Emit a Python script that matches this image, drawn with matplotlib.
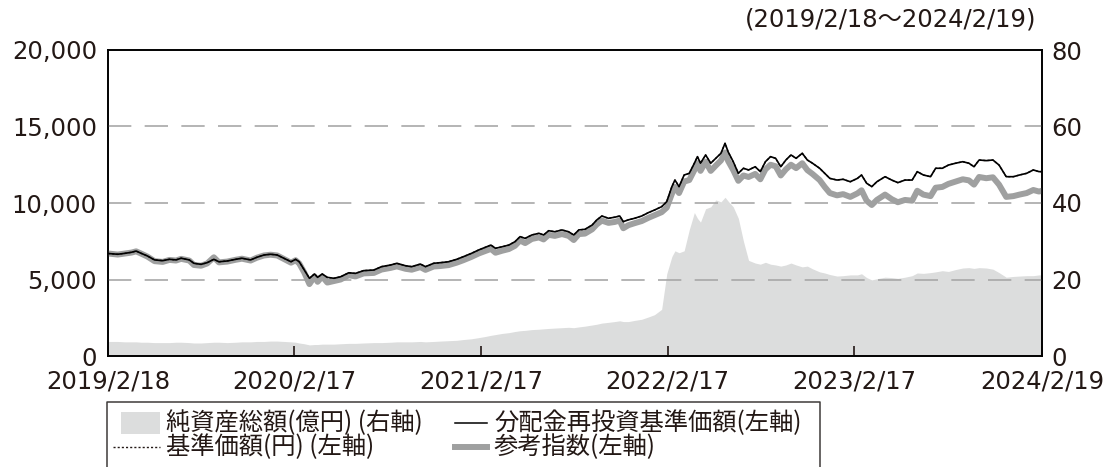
import pandas as pd
import matplotlib.pyplot as plt
from matplotlib.lines import Line2D
from matplotlib.patches import Rectangle

plt.rcParams["font.family"] = ["DejaVu Sans", "Noto Sans CJK JP"]

dates = [
    "2019-02-18", "2019-03-09", "2019-03-23", "2019-04-05", "2019-04-14", "2019-04-24", "2019-05-06",
    "2019-05-20", "2019-06-05", "2019-06-18", "2019-07-01", "2019-07-11", "2019-07-27", "2019-08-05",
    "2019-08-19", "2019-08-31", "2019-09-13", "2019-09-23", "2019-10-09", "2019-10-26", "2019-11-07",
    "2019-11-24", "2019-12-06", "2019-12-20",
    "2020-01-02", "2020-01-15", "2020-01-28", "2020-02-11", "2020-02-20", "2020-02-27", "2020-03-08",
    "2020-03-18", "2020-03-28", "2020-04-03", "2020-04-12", "2020-04-22", "2020-05-05", "2020-05-18",
    "2020-06-03", "2020-06-16", "2020-07-02", "2020-07-22", "2020-08-06", "2020-08-24", "2020-09-05",
    "2020-09-22", "2020-10-04", "2020-10-21", "2020-10-31", "2020-11-16", "2020-11-29", "2020-12-15",
    "2020-12-31",
    "2021-01-13", "2021-01-29", "2021-02-12", "2021-02-25", "2021-03-08", "2021-03-17", "2021-03-30",
    "2021-04-12", "2021-04-24", "2021-05-04", "2021-05-14", "2021-05-27", "2021-06-10", "2021-06-19",
    "2021-06-29", "2021-07-11", "2021-07-25", "2021-08-07", "2021-08-17", "2021-08-27", "2021-09-08",
    "2021-09-22", "2021-10-01", "2021-10-11", "2021-10-24", "2021-11-05", "2021-11-15", "2021-11-22",
    "2021-12-02", "2021-12-14", "2021-12-28",
    "2022-01-10", "2022-01-22", "2022-02-05", "2022-02-15", "2022-02-25", "2022-03-03", "2022-03-11",
    "2022-03-21", "2022-03-31", "2022-04-10", "2022-04-16", "2022-04-22", "2022-05-02", "2022-05-12",
    "2022-05-22", "2022-06-01", "2022-06-09", "2022-06-15", "2022-06-25", "2022-07-05", "2022-07-15",
    "2022-07-25", "2022-08-07", "2022-08-17", "2022-08-27", "2022-09-06", "2022-09-16", "2022-09-26",
    "2022-10-06", "2022-10-16", "2022-10-26", "2022-11-07", "2022-11-17", "2022-11-27", "2022-12-11",
    "2022-12-21", "2022-12-31",
    "2023-01-14", "2023-01-26", "2023-02-09", "2023-02-23", "2023-03-03", "2023-03-13", "2023-03-23",
    "2023-04-02", "2023-04-18", "2023-05-01", "2023-05-13", "2023-05-27", "2023-06-10", "2023-06-20",
    "2023-07-02", "2023-07-16", "2023-07-26", "2023-08-08", "2023-08-20", "2023-09-03", "2023-09-17",
    "2023-09-29", "2023-10-09", "2023-10-19", "2023-11-02", "2023-11-15", "2023-11-27", "2023-12-11",
    "2023-12-25",
    "2024-01-06", "2024-01-20", "2024-02-02", "2024-02-13", "2024-02-19",
]

# 分配金再投資基準価額 (円)
nav_reinvest = [
    6700, 6650, 6710, 6780, 6860, 6710, 6540,
    6280, 6230, 6320, 6280, 6390, 6280, 6060,
    5990, 6100, 6320, 6160, 6210, 6320, 6390,
    6280, 6450, 6600,
    6650, 6600, 6390, 6160, 6320, 6160, 5620,
    5080, 5360, 5140, 5360, 5140, 5080, 5180,
    5440, 5400, 5580, 5620, 5840, 5950, 6060,
    5900, 5840, 6010, 5840, 6060, 6100, 6160,
    6320,
    6490, 6710, 6930, 7100, 7250, 7040, 7140,
    7250, 7470, 7800, 7690, 7910, 8020, 7910,
    8190, 8120, 8240, 8120, 7910, 8240, 8280,
    8560, 8890, 9150, 9000, 9070, 9150, 8780,
    8900, 9000, 9150,
    9370, 9540, 9760, 10090, 11070, 11500, 11070,
    11830, 11940, 12600, 13030, 12600, 13140, 12600,
    12920, 13250, 13900, 13350, 12700, 11940, 12270,
    12160, 12370, 12050, 12700, 13030, 12920, 12370,
    12810, 13140, 12920, 13250, 12810, 12600, 12270,
    11940, 11610,
    11500, 11550, 11390, 11610, 11830, 11290, 11070,
    11390, 11720, 11500, 11330, 11500, 11500, 12050,
    11830, 11720, 12270, 12270, 12480, 12600, 12700,
    12600, 12370, 12810, 12770, 12810, 12480, 11720,
    11720,
    11830, 11940, 12160, 12050, 12050,
]

# 基準価額 (円): no distribution paid, same as reinvested
nav = list(nav_reinvest)

# 参考指数
ref_index = [
    6700, 6630, 6700, 6760, 6840, 6690, 6500,
    6200, 6150, 6280, 6240, 6350, 6240, 5950,
    5900, 6050, 6450, 6120, 6170, 6290, 6360,
    6240, 6420, 6570,
    6620, 6570, 6340, 6100, 6260, 6050, 5450,
    4700, 5200, 4850, 5200, 4800, 4900, 5000,
    5280, 5200, 5400, 5430, 5650, 5760, 5860,
    5700, 5640, 5810, 5630, 5850, 5880, 5940,
    6100,
    6260, 6480, 6700, 6860, 7000, 6750, 6880,
    6990, 7200, 7550, 7380, 7650, 7750, 7620,
    7920, 7850, 7970, 7850, 7580, 7970, 8000,
    8280, 8600, 8850, 8700, 8760, 8850, 8350,
    8550, 8680, 8820,
    9030, 9200, 9400, 9700, 10600, 11050, 10650,
    11400, 11500, 12150, 12600, 12100, 12700, 12100,
    12450, 12780, 13300, 12750, 12150, 11450, 11800,
    11700, 11900, 11550, 12200, 12500, 12400, 11800,
    12200, 12500, 12280, 12600, 12150, 11900, 11500,
    11050, 10650,
    10500, 10580, 10400, 10630, 10830, 10150, 9870,
    10200, 10550, 10250, 10050, 10200, 10150, 10800,
    10550, 10450, 11000, 11050, 11250, 11400, 11550,
    11480, 11200, 11700, 11620, 11680, 11200, 10400,
    10450,
    10550, 10650, 10850, 10750, 10800,
]

# 純資産総額 (億円)
net_assets = [
    3.8, 3.8, 3.7, 3.7, 3.7, 3.6, 3.6,
    3.5, 3.5, 3.5, 3.6, 3.6, 3.5, 3.4,
    3.4, 3.5, 3.6, 3.6, 3.5, 3.6, 3.7,
    3.7, 3.8, 3.8,
    3.9, 3.9, 3.8, 3.7, 3.6, 3.4, 3.2,
    2.9, 3.0, 3.0, 3.1, 3.1, 3.1, 3.2,
    3.3, 3.3, 3.4, 3.5, 3.5, 3.6, 3.7,
    3.7, 3.7, 3.8, 3.7, 3.8, 3.9, 4.0,
    4.1,
    4.3, 4.5, 4.8, 5.1, 5.4, 5.6, 5.9,
    6.1, 6.4, 6.6, 6.7, 6.9, 7.0, 7.1,
    7.2, 7.3, 7.4, 7.5, 7.4, 7.6, 7.8,
    8.1, 8.3, 8.6, 8.8, 9.0, 9.2, 9.0,
    9.0, 9.3, 9.6,
    10.2, 10.8, 12.2, 21.5, 26.0, 27.5, 27.0,
    27.5, 33.0, 37.5, 36.0, 35.0, 38.5, 39.0,
    40.8, 40.3, 41.5, 40.5, 39.0, 36.0, 30.0,
    25.0, 24.3, 24.0, 24.5, 24.0, 23.8, 23.5,
    23.8, 24.3, 23.8, 23.3, 23.5, 22.8, 22.0,
    21.7, 21.3,
    20.9, 21.0, 21.2, 21.2, 21.5, 20.5, 19.9,
    20.2, 20.6, 20.5, 20.3, 20.6, 21.0, 21.7,
    21.6, 21.8, 22.0, 22.3, 22.1, 22.6, 23.0,
    23.1, 22.9, 23.1, 23.0, 22.7, 21.8, 20.6,
    20.8,
    20.9, 21.0, 21.0, 21.2, 21.2,
]

tick_dates = ["2019-02-18", "2020-02-17", "2021-02-17", "2022-02-17", "2023-02-17", "2024-02-19"]
tick_labels = ["2019/2/18", "2020/2/17", "2021/2/17", "2022/2/17", "2023/2/17", "2024/2/19"]

legend_labels = ["純資産総額(億円) (右軸)", "基準価額(円) (左軸)",
                 "分配金再投資基準価額(左軸)", "参考指数(左軸)"]

x = pd.to_datetime(dates)
txt = "#231815"
fill_c = "#dcdddd"
ref_c = "#9fa0a0"
W, H = 1111, 467

fig = plt.figure(figsize=(W / 100, H / 100), dpi=100)
ax = fig.add_axes([108 / W, 1 - 356 / H, 934 / W, 306 / H])
ax2 = ax.twinx()

# net assets on the right axis, drawn behind
ax2.fill_between(x, net_assets, 0, color=fill_c, linewidth=0, zorder=1)
ax2.set_ylim(0, 80)
ax2.set_yticks([0, 20, 40, 60, 80])
ax2.tick_params(axis="y", length=0, labelsize=17.5, colors=txt, pad=7)

ax.set_zorder(ax2.get_zorder() + 1)
ax.patch.set_visible(False)

for yv in [5000, 10000, 15000]:
    ax.axhline(yv, color="#a8a8a8", lw=1.2, dashes=(14, 8), zorder=1)

ax.plot(x, ref_index, color=ref_c, lw=4.3, zorder=2, solid_joinstyle="round")
ax.plot(x, nav, color=txt, lw=1.0, ls=(0, (1.5, 1.5)), zorder=3)
ax.plot(x, nav_reinvest, color="black", lw=1.2, zorder=4)

ax.set_ylim(0, 20000)
ax.set_yticks([0, 5000, 10000, 15000, 20000])
ax.set_yticklabels(["0", "5,000", "10,000", "15,000", "20,000"])
ax.tick_params(axis="y", length=0, labelsize=17.5, colors=txt, pad=8)

ax.set_xlim(x[0], x[-1])
ax.set_xticks(pd.to_datetime(tick_dates))
ax.set_xticklabels(tick_labels)
ax.tick_params(axis="x", direction="in", length=7, width=1.2, labelsize=17.5, colors=txt, pad=10)

for a in (ax, ax2):
    for s in a.spines.values():
        s.set_color("black")
        s.set_linewidth(1.2)

fig.text(1036 / W, 1 - 20 / H, "(2019/2/18～2024/2/19)", ha="right", va="center",
         fontsize=17.5, color=txt)


# legend box, open at the bottom edge of the picture
def fx(px):
    return px / W


def fy(py):
    return 1 - py / H


fig.add_artist(Line2D([fx(107), fx(107), fx(820), fx(820)], [fy(475), fy(402), fy(402), fy(475)],
                      transform=fig.transFigure, color="#3e3a39", lw=1.1))
fig.add_artist(Rectangle((fx(121), fy(434)), fx(160) - fx(121), fy(412) - fy(434),
                         transform=fig.transFigure, facecolor=fill_c, edgecolor="none"))
fig.add_artist(Line2D([fx(113), fx(160)], [fy(447), fy(447)], transform=fig.transFigure,
                      color=txt, lw=1.0, ls=(0, (1.5, 1.5))))
fig.add_artist(Line2D([fx(455), fx(487)], [fy(423), fy(423)], transform=fig.transFigure,
                      color="black", lw=1.1))
fig.add_artist(Line2D([fx(455), fx(487)], [fy(447), fy(447)], transform=fig.transFigure,
                      color=ref_c, lw=4.3))

leg_pos = [(166, 423), (166, 447), (494, 423), (494, 447)]
for (px, py), lab in zip(leg_pos, legend_labels):
    fig.text(fx(px), fy(py), lab, ha="left", va="center", fontsize=17.5, color=txt,
             family=["Noto Sans CJK JP", "DejaVu Sans"])

fig.savefig("out.png", dpi=100)
